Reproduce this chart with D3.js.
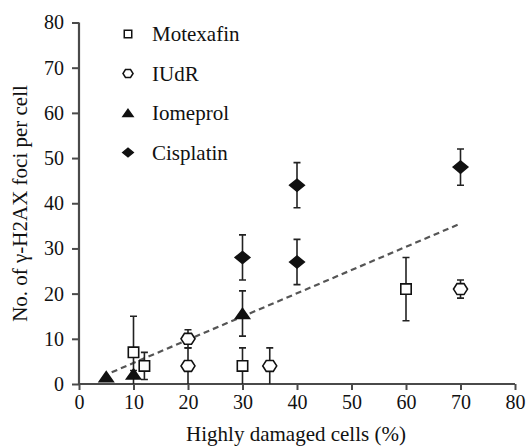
<!DOCTYPE html>
<html><head><meta charset="utf-8">
<script src="https://cdn.jsdelivr.net/npm/d3@7"></script>
<style>body{margin:0;background:#fff}svg{display:block}text{font-family:'Liberation Serif','DejaVu Serif',serif}</style>
</head><body>
<svg id="c" width="528" height="446"></svg>
<script>
const series = ["Motexafin", "IUdR", "Iomeprol", "Cisplatin"];
const motexafinX = [10, 12, 30, 60];
const motexafinY = [7, 4, 4, 21];
const motexafinErr = [8, 3, 4, 7];
const iudrX = [20, 20, 35, 70];
const iudrY = [10, 4, 4, 21];
const iudrErr = [2, 4, 4, 2];
const iomeprolX = [5, 10, 30];
const iomeprolY = [1.6, 2.2, 15.6];
const iomeprolErr = [0, 0.8, 5];
const cisplatinX = [30, 40, 40, 70];
const cisplatinY = [28, 27, 44, 48];
const cisplatinErr = [5, 5, 5, 4];
const trendX = [6, 70];
const trendY = [2.6, 35.5];
const xTicks = [0, 10, 20, 30, 40, 50, 60, 70, 80];
const yTicks = [0, 10, 20, 30, 40, 50, 60, 70, 80];

const svg = d3.select("#c");
const font = "'Liberation Serif','DejaVu Serif',serif";
const x = d3.scaleLinear().domain([0, 80]).range([79, 515]);
const y = d3.scaleLinear().domain([0, 80]).range([384, 22.5]);
const axisColor = "#4a4a4a";
const fsTick = 20, fsTitle = 21;

const gx = svg.append("g").attr("transform", `translate(0,${y(0)})`)
  .call(d3.axisBottom(x).tickValues(xTicks).tickSize(6).tickPadding(5));
const gy = svg.append("g").attr("transform", `translate(${x(0)},0)`)
  .call(d3.axisLeft(y).tickValues(yTicks).tickSize(7).tickPadding(8));
[gx, gy].forEach(g => {
  g.attr("font-family", null).attr("font-size", null);
  g.select(".domain").attr("stroke", axisColor).attr("stroke-width", 2.2);
  g.selectAll(".tick line").attr("stroke", axisColor).attr("stroke-width", 2);
  g.selectAll(".tick text").style("font-family", font).style("font-size", fsTick + "px").attr("fill", "#111");
});
gx.select(".domain").attr("d", `M${x(0)},0H${x(80)}`);
gy.select(".domain").attr("d", `M0,${y(0)}V${y(80)}`);

svg.append("text").attr("x", (x(0)+x(80))/2 - 1).attr("y", 441)
  .attr("text-anchor", "middle").style("font-family", font).style("font-size", fsTitle + "px").attr("fill", "#111")
  .text("Highly damaged cells (%)");
svg.append("text").attr("transform", `translate(27,203.5) rotate(-90)`)
  .attr("text-anchor", "middle").style("font-family", font).style("font-size", fsTitle + "px").attr("fill", "#111")
  .text("No. of γ-H2AX foci per cell");

// trend line
svg.append("line").attr("x1", x(trendX[0])).attr("y1", y(trendY[0]))
  .attr("x2", x(trendX[1])).attr("y2", y(trendY[1]))
  .attr("stroke", "#555").attr("stroke-width", 2.2).attr("stroke-dasharray", "6,4");

const sym = {
  Motexafin: {fill: "#fff"},
  IUdR: {fill: "#fff"},
  Iomeprol: {fill: "#111"},
  Cisplatin: {fill: "#111"}
};
function markerPath(name, scale) {
  if (name === "Motexafin") {
    const r = 5.2 * scale;
    return `M${-r},${-r}H${r}V${r}H${-r}Z`;
  }
  if (name === "IUdR") {
    const r = 7 * scale;
    const pts = d3.range(6).map(i => { const a = i*Math.PI/3; return [r*Math.cos(a), 0.9*r*Math.sin(a)]; });
    return "M" + pts.map(p => p.join(",")).join("L") + "Z";
  }
  if (name === "Iomeprol") {
    const w = 7*scale, h = 5*scale;
    return `M0,${-h}L${w},${h}L${-w},${h}Z`;
  }
  const w = 7.3*scale, h = 6*scale;
  return `M${-w},0L0,${-h}L${w},0L0,${h}Z`;
}

const data = [
  {name: "Motexafin", xs: motexafinX, ys: motexafinY, es: motexafinErr},
  {name: "IUdR", xs: iudrX, ys: iudrY, es: iudrErr},
  {name: "Iomeprol", xs: iomeprolX, ys: iomeprolY, es: iomeprolErr},
  {name: "Cisplatin", xs: cisplatinX, ys: cisplatinY, es: cisplatinErr}
];
data.forEach(d => {
  const g = svg.append("g");
  d.xs.forEach((xv, i) => {
    const e = d.es[i];
    if (e > 0) {
      const lo = Math.max(0, d.ys[i]-e), hi = d.ys[i]+e;
      const cx = x(xv);
      g.append("path").attr("d", `M${cx},${y(lo)}V${y(hi)}M${cx-3.5},${y(hi)}H${cx+3.5}` + (lo > 0 ? `M${cx-3.5},${y(lo)}H${cx+3.5}` : ""))
        .attr("stroke", "#222").attr("stroke-width", 1.6).attr("fill", "none");
    }
  });
  d.xs.forEach((xv, i) => {
    g.append("path").attr("d", markerPath(d.name, 1))
      .attr("transform", `translate(${x(xv)},${y(d.ys[i])})`)
      .attr("fill", sym[d.name].fill).attr("stroke", "#111").attr("stroke-width", 1.6);
  });
});

// legend
const leg = svg.append("g");
series.forEach((name, i) => {
  const yy = 34 + i*39.5;
  leg.append("path").attr("d", markerPath(name, 0.72))
    .attr("transform", `translate(128,${yy})`)
    .attr("fill", sym[name].fill).attr("stroke", "#111").attr("stroke-width", 1.5);
  leg.append("text").attr("x", 152).attr("y", yy + 7)
    .style("font-family", font).style("font-size", fsTitle + "px").attr("fill", "#111").text(name);
});
</script>
</body></html>
